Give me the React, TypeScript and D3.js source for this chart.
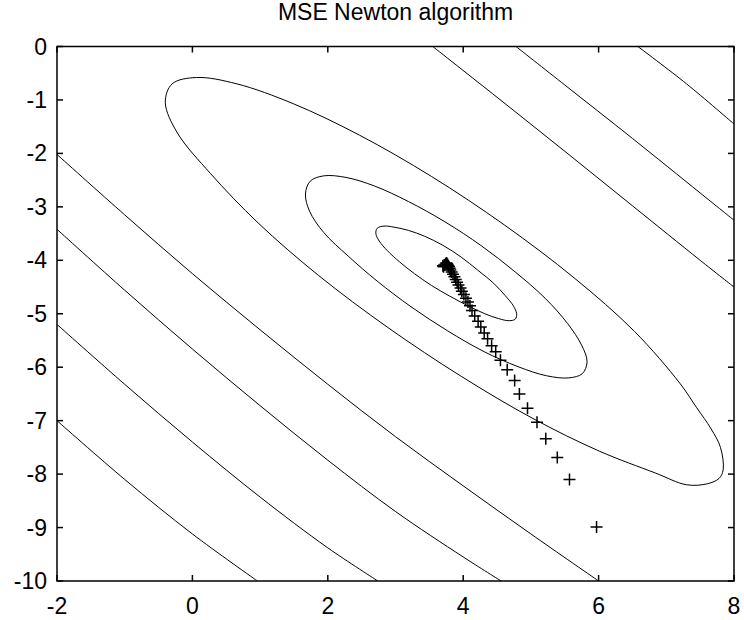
import React from "react";
import * as d3 from "d3";

type P = [number, number];

const title = "MSE Newton algorithm";
const xTicks = [-2, 0, 2, 4, 6, 8];
const yTicks = [0, -1, -2, -3, -4, -5, -6, -7, -8, -9, -10];

// closed contour rings (x, y)
const ringInner: P[] = [
  [4.77, -5.1], [4.79, -5.0], [4.74, -4.85], [4.62, -4.66], [4.45, -4.43], [4.22, -4.19],
  [3.97, -3.94], [3.7, -3.72], [3.43, -3.55], [3.19, -3.44], [2.98, -3.38], [2.83, -3.36],
  [2.73, -3.4], [2.71, -3.5], [2.76, -3.64], [2.88, -3.82], [3.06, -4.03], [3.28, -4.25],
  [3.53, -4.47], [3.8, -4.67], [4.07, -4.85], [4.32, -5.0], [4.52, -5.09], [4.68, -5.13],
];
const ringMiddle: P[] = [
  [5.76, -6.12], [5.83, -5.9], [5.75, -5.59], [5.54, -5.18], [5.21, -4.71], [4.77, -4.22],
  [4.27, -3.73], [3.73, -3.28], [3.19, -2.9], [2.69, -2.61], [2.27, -2.45], [1.94, -2.42],
  [1.74, -2.52], [1.67, -2.76], [1.73, -3.08], [1.94, -3.48], [2.3, -3.92], [2.73, -4.39],
  [3.23, -4.87], [3.77, -5.32], [4.31, -5.71], [4.81, -5.99], [5.23, -6.16], [5.56, -6.2],
];
const ringOuter: P[] = [
  [7.84, -7.92], [7.8, -7.5], [7.66, -7.15], [7.45, -6.76], [7.2, -6.3], [6.53, -5.33],
  [5.64, -4.33], [4.61, -3.34], [3.53, -2.43], [2.47, -1.66], [1.49, -1.07], [0.66, -0.7],
  [0.06, -0.58], [-0.3, -0.7], [-0.4, -1.05], [-0.22, -1.62], [0.27, -2.38], [0.97, -3.3],
  [1.86, -4.28], [2.89, -5.26], [3.97, -6.17], [5.03, -6.96], [6.01, -7.57], [6.84, -7.98],
  [7.3, -8.2], [7.61, -8.18], [7.78, -8.08],
];

// open contour pieces cut by the axes box
const lowerA: P[] = [[-2, -2.02], [-1, -3.15], [0, -4.25], [1, -5.3], [2, -6.32], [3, -7.3], [4, -8.22], [5, -9.12], [6.0, -10]];
const lowerB: P[] = [[-2, -3.42], [-1, -4.56], [0, -5.66], [1, -6.72], [2, -7.74], [3, -8.7], [4, -9.55], [4.56, -10]];
const lowerC: P[] = [[-2, -5.2], [-1, -6.32], [0, -7.4], [1, -8.43], [2, -9.38], [2.74, -10]];
const lowerD: P[] = [[-2, -7.0], [-1, -8.1], [0, -9.12], [0.96, -10]];
const upperA: P[] = [[3.55, 0], [4.5, -0.95], [5.5, -1.96], [6.5, -2.98], [7.5, -4.0], [8, -4.5]];
const upperB: P[] = [[4.78, 0], [5.5, -0.72], [6.5, -1.72], [7.5, -2.74], [8, -3.25]];
const upperC: P[] = [[6.58, 0], [7.3, -0.7], [8, -1.45]];

// Newton iterates
const iterX = [5.97, 5.57, 5.39, 5.22, 5.09, 4.95, 4.83, 4.76, 4.65, 4.55, 4.48, 4.42, 4.36, 4.31, 4.26,
  4.22, 4.17, 4.13, 4.1, 4.07, 4.04, 4.01, 3.98, 3.96, 3.93, 3.91, 3.89, 3.87, 3.85, 3.83, 3.81,
  3.8, 3.79, 3.78, 3.77, 3.76, 3.75, 3.74, 3.72, 3.71, 3.7];
const iterY = [-8.99, -8.1, -7.69, -7.34, -7.03, -6.77, -6.5, -6.25, -6.05, -5.87, -5.71, -5.6, -5.47, -5.36, -5.25,
  -5.14, -5.04, -4.94, -4.85, -4.78, -4.71, -4.64, -4.58, -4.52, -4.46, -4.41, -4.36, -4.31, -4.26, -4.22, -4.18,
  -4.15, -4.12, -4.1, -4.08, -4.06, -4.05, -4.07, -4.09, -4.12, -4.1];

const W = 744;
const H = 620;
const L = 57, R = 734, T = 46.5, B = 581;
const font = "'Liberation Sans', Arial, Helvetica, sans-serif";

export default function App() {
  const x = d3.scaleLinear().domain([-2, 8]).range([L, R]);
  const y = d3.scaleLinear().domain([-10, 0]).range([B, T]);
  const closed = d3.line<P>().x((d) => x(d[0])).y((d) => y(d[1])).curve(d3.curveCatmullRomClosed);
  const open = d3.line<P>().x((d) => x(d[0])).y((d) => y(d[1])).curve(d3.curveCatmullRom);
  const rings = [ringInner, ringMiddle, ringOuter];
  const pieces = [lowerA, lowerB, lowerC, lowerD, upperA, upperB, upperC];
  const tk = 6;
  return (
    <svg width={W} height={H} style={{ position: "absolute", left: 0, top: 0, background: "#fff" }}>
      <defs>
        <clipPath id="plotclip">
          <rect x={L} y={T} width={R - L} height={B - T} />
        </clipPath>
      </defs>
      <rect x={0} y={0} width={W} height={H} fill="#fff" />
      <g clipPath="url(#plotclip)" fill="none" stroke="#000" strokeWidth={1}>
        {rings.map((r, i) => (
          <path key={"r" + i} d={closed(r) || ""} />
        ))}
        {pieces.map((p, i) => (
          <path key={"p" + i} d={open(p) || ""} />
        ))}
      </g>
      <g stroke="#000" strokeWidth={1.5}>
        {iterX.map((v, i) => (
          <path key={"m" + i} d="M-6,0H6M0,-6V6" transform={`translate(${x(v)},${y(iterY[i])})`} />
        ))}
      </g>
      <g stroke="#000" strokeWidth={1.5} fill="none">
        <rect x={L} y={T} width={R - L} height={B - T} />
        {xTicks.map((t) => (
          <g key={"xt" + t}>
            <line x1={x(t)} x2={x(t)} y1={B} y2={B - tk} />
            <line x1={x(t)} x2={x(t)} y1={T} y2={T + tk} />
          </g>
        ))}
        {yTicks.map((t) => (
          <g key={"yt" + t}>
            <line x1={L} x2={L + tk} y1={y(t)} y2={y(t)} />
            <line x1={R} x2={R - tk} y1={y(t)} y2={y(t)} />
          </g>
        ))}
      </g>
      <g fontFamily={font} fontSize={23} fill="#000">
        {xTicks.map((t) => (
          <text key={"xl" + t} x={x(t)} y={614} textAnchor="middle">
            {String(t)}
          </text>
        ))}
        {yTicks.map((t) => (
          <text key={"yl" + t} x={L - 10} y={y(t) + 8} textAnchor="end">
            {String(t)}
          </text>
        ))}
        <text x={(L + R) / 2} y={20} textAnchor="middle" fontSize={23}>
          {title}
        </text>
      </g>
    </svg>
  );
}
